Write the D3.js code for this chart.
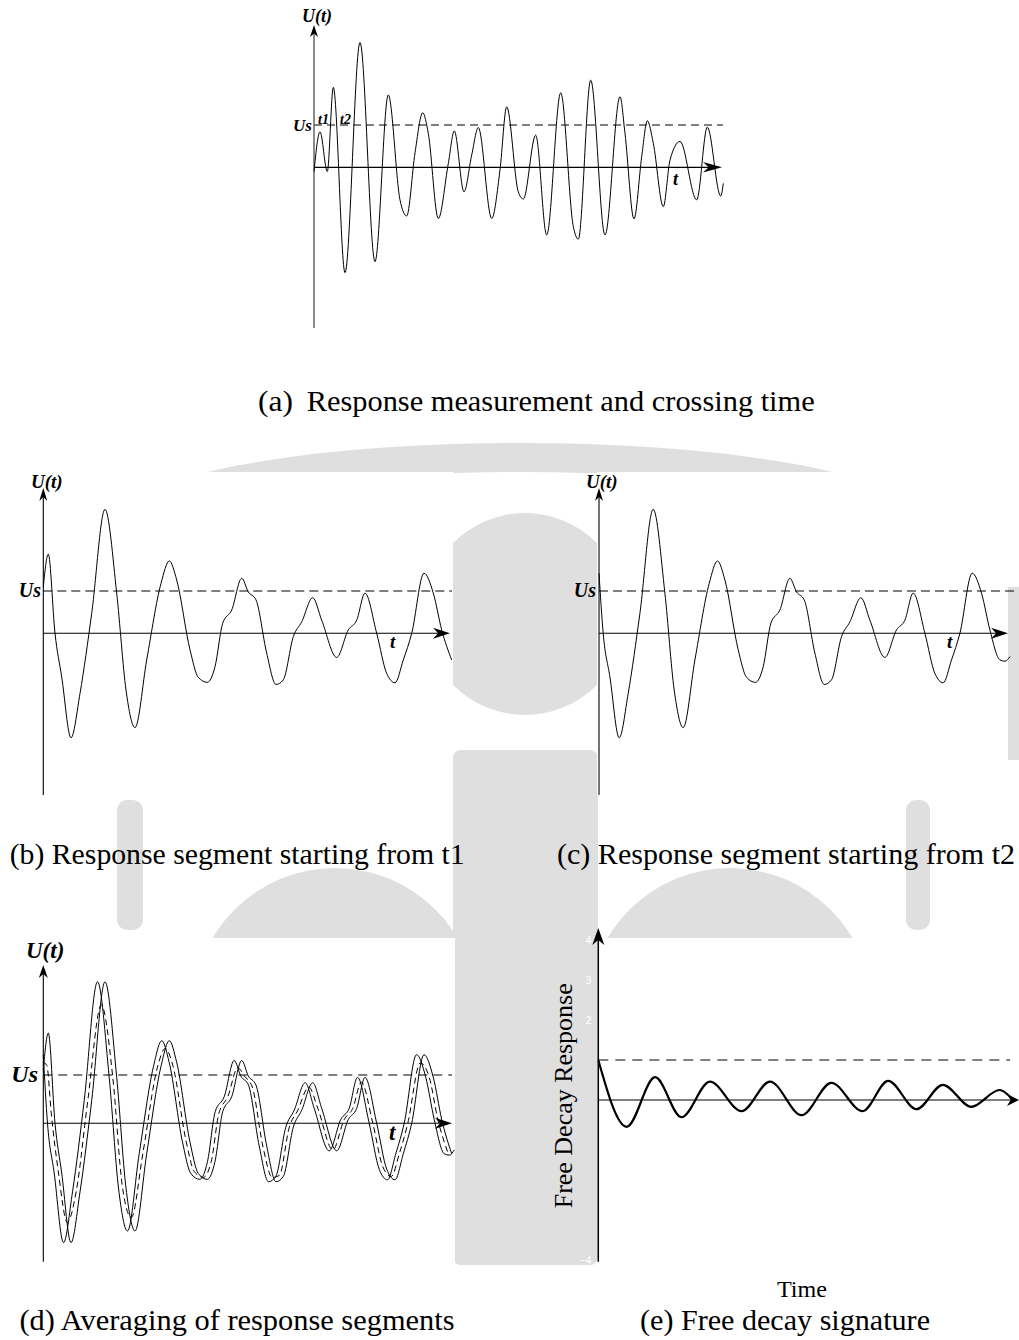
<!DOCTYPE html>
<html><head><meta charset="utf-8">
<script src="https://cdn.jsdelivr.net/npm/d3@7"></script>
<style>
html,body{margin:0;padding:0;background:#fff;}
svg{display:block;}
</style></head><body>
<svg id="fig" width="1019" height="1340"></svg>
<script>
// ---------- DATA ----------
// (a) full measured response: time (arbitrary units) and U(t) (in units of Us)
const fullT = [0,0.6,1.33,1.93,3.1,4.6,6.1,7.43,8.6,9.27,10.1,10.87,11.43,12.43,13.43,14.03,15.0,15.77,16.43,17.77,18.6,19.27,20.43,20.93,22.17,23.27,24.67,25.93,26.43,27.67,29.1,30.6,31.1,32.0,32.77,33.33,33.93,34.93,35.6,36.6,38.27,39.33,40.67,40.93];
const fullU = [-0.1,0.84,-0.10,1.89,-2.49,2.95,-2.23,1.71,-0.77,-1.15,0.34,1.29,0.80,-1.21,0.09,0.86,-0.58,0.29,0.94,-1.21,-0.06,1.43,-0.58,-0.75,0.76,-1.60,1.76,-1.40,-1.70,2.06,-1.60,1.67,0.80,-1.22,0.25,1.10,0.57,-0.93,0.17,0.61,-0.77,0.95,-0.68,-0.38];
// (b) segment starting from t1
const segT1t = [0,0.5,1.17,1.84,2.77,3.67,4.84,6.17,7.34,8.27,9.17,10.34,11.77,12.6,13.34,14.67,15.5,16.4,17.17,17.94,18.84,19.84,20.5,21.27,22.34,23.27,24.0,25.0,25.84,26.94,27.84,29.34,30.5,31.34,32.17,33.34,34.34,35.17,36.0,36.84,38.07,39.0,39.84,40.84];
const segT1u = [1.10,1.87,0.00,-1.03,-2.47,-1.42,0.47,2.93,0.95,-1.34,-2.23,-0.63,1.18,1.71,1.26,-0.39,-1.04,-1.16,-0.79,0.24,0.55,1.30,0.98,0.79,-0.47,-1.21,-1.10,-0.08,0.27,0.84,0.31,-0.57,0.08,0.31,0.95,0.00,-0.95,-1.17,-0.63,0.00,1.42,0.95,0.08,-0.63];
// (c) segment starting from t2
const segT2t = [0,0.42,1.09,2.02,2.92,4.09,5.42,6.59,7.52,8.42,9.59,11.02,11.85,12.59,13.92,14.75,15.65,16.42,17.19,18.09,19.09,19.75,20.52,21.59,22.52,23.25,24.25,25.09,26.19,27.09,28.59,29.75,30.59,31.42,32.59,33.59,34.42,35.25,36.09,37.32,38.25,39.09,40.09,40.6,41.1];
const segT2u = [1.42,0.00,-1.03,-2.47,-1.42,0.47,2.93,0.95,-1.34,-2.23,-0.63,1.18,1.71,1.26,-0.39,-1.04,-1.16,-0.79,0.24,0.55,1.30,0.98,0.79,-0.47,-1.21,-1.10,-0.08,0.27,0.84,0.31,-0.57,0.08,0.31,0.95,0.00,-0.95,-1.17,-0.63,0.00,1.42,0.95,0.08,-0.63,-0.66,-0.55];
// (d) averaged segment (dashed)
const avgT = [0,0.35,0.8,1.5,2.4,3.3,4.45,5.8,6.95,7.9,8.8,9.95,11.4,12.2,12.95,14.3,15.1,16.0,16.8,17.55,18.45,19.45,20.1,20.9,21.95,22.9,23.6,24.6,25.45,26.55,27.45,28.95,30.1,30.95,31.8,32.95,33.95,34.8,35.6,36.45,37.7,38.6,39.45,40.45];
const avgU = [1.26,1.2,0.2,-1.0,-2.05,-1.4,0.47,2.45,0.95,-1.3,-1.95,-0.63,1.15,1.55,1.2,-0.39,-1.0,-1.12,-0.79,0.2,0.55,1.15,0.98,0.75,-0.47,-1.12,-1.08,-0.08,0.27,0.75,0.31,-0.55,0.08,0.31,0.85,0.0,-0.9,-1.1,-0.63,0.0,1.25,0.95,0.08,-0.6];
// (e) free decay signature
const decayTime = [0,0.69,1.38,2.02,2.71,3.48,4.17,4.94,5.66,6.42,7.04,7.73,8.37,9.06,9.75,10.0];
const decayResp = [1.0,-0.67,0.57,-0.43,0.46,-0.28,0.46,-0.38,0.43,-0.28,0.48,-0.23,0.38,-0.17,0.25,0.08];
const decayTicks = [4,3,2,-4];
const thresholdUs = 1.0;

const captions = ["(a)", "Response measurement and crossing time",
  "(b) Response segment starting from t1", "(c) Response segment starting from t2",
  "(d) Averaging of response segments", "(e) Free decay signature"];

// ---------- DRAWING ----------
const svg = d3.select('#fig');
const serif = '"Liberation Serif","Times New Roman",Times,serif';
const zip = (a,b) => a.map((v,i)=>[v,b[i]]);

svg.append('rect').attr('width',1019).attr('height',1340).attr('fill','#fff');

// faint watermark shapes
const wm = svg.append('g').attr('fill','#dfdfdf');
function ell(cx,cy,rx,ry){return `M${cx-rx},${cy}a${rx},${ry} 0 1,0 ${2*rx},0a${rx},${ry} 0 1,0 ${-2*rx},0Z`;}
wm.append('path').attr('fill-rule','evenodd').attr('d', ell(520,520,400,77)+ell(520,540,370,68));
wm.append('circle').attr('cx',525).attr('cy',614).attr('r',101);
wm.append('rect').attr('x',453).attr('y',750).attr('width',145).attr('height',515).attr('rx',8);
wm.append('circle').attr('cx',335).attr('cy',1010).attr('r',142);
wm.append('circle').attr('cx',730).attr('cy',1010).attr('r',142);
wm.append('rect').attr('x',117).attr('y',800).attr('width',26).attr('height',130).attr('rx',10);
wm.append('rect').attr('x',906).attr('y',800).attr('width',24).attr('height',130).attr('rx',10);
wm.append('rect').attr('x',1008).attr('y',587).attr('width',11).attr('height',173);

// white panel backgrounds
[[0,472,453,323],[597,472,411,323],[0,938,455,324],[598,938,412,320]].forEach(r=>{
  svg.append('rect').attr('x',r[0]).attr('y',r[1]).attr('width',r[2]).attr('height',r[3]).attr('fill','#fff');
});

function arrowRight(g,x,y,L,W,col){
  g.append('path').attr('d',`M${x},${y}L${x-L},${y-W}L${x-L*0.7},${y}L${x-L},${y+W}Z`).attr('fill',col||'#000');
}
function arrowUp(g,x,y,L,W,col){
  g.append('path').attr('d',`M${x},${y}L${x-W},${y+L}L${x},${y+L*0.7}L${x+W},${y+L}Z`).attr('fill',col||'#000');
}
function lbl(g,x,y,t,size,anchor){
  return g.append('text').attr('x',x).attr('y',y).text(t)
    .attr('font-family',serif).attr('font-weight','bold').attr('font-style','italic')
    .attr('font-size',size).attr('text-anchor',anchor||'start').attr('fill','#000');
}
function curve(g,x,y,data,opts){
  const line = d3.line().x(d=>x(d[0])).y(d=>y(d[1])).curve(d3.curveMonotoneX);
  const p = g.append('path').attr('d',line(data)).attr('fill','none')
    .attr('stroke','#000').attr('stroke-width',opts&&opts.w||1).attr('stroke-linejoin','round');
  if(opts&&opts.dash) p.attr('stroke-dasharray',opts.dash);
  return p;
}

// ----- panel (a) -----
{
  const g = svg.append('g');
  const x = d3.scaleLinear().domain([0,1]).range([314,324]);
  const y = d3.scaleLinear().domain([0,1]).range([167.3,125]);
  g.append('line').attr('x1',x(0)).attr('x2',723).attr('y1',y(thresholdUs)).attr('y2',y(thresholdUs))
    .attr('stroke','#000').attr('stroke-width',1).attr('stroke-dasharray','8,5');
  g.append('line').attr('x1',x(0)).attr('x2',x(0)).attr('y1',328).attr('y2',30).attr('stroke','#666').attr('stroke-width',1.5);
  arrowUp(g,x(0),25,12,4);
  g.append('line').attr('x1',x(0)).attr('x2',715).attr('y1',y(0)).attr('y2',y(0)).attr('stroke','#000').attr('stroke-width',1.2);
  arrowRight(g,722,y(0),19,5.3);
  curve(g,x,y,zip(fullT,fullU),{w:1});
  lbl(g,302,21.5,'U(t)',18);
  lbl(g,312,131,'Us',17,'end');
  lbl(g,318,124,'t1',14);
  lbl(g,340,124,'t2',14);
  lbl(g,673,185,'t',18);
}

// ----- panels (b) and (c) -----
function segPanel(x0, arrowX, dashEnd, data, labs){
  const g = svg.append('g');
  const x = d3.scaleLinear().domain([0,1]).range([x0,x0+10]);
  const y = d3.scaleLinear().domain([0,1]).range([633.3,591]);
  g.append('line').attr('x1',x0).attr('x2',dashEnd).attr('y1',y(thresholdUs)).attr('y2',y(thresholdUs))
    .attr('stroke','#000').attr('stroke-width',1).attr('stroke-dasharray','9,5');
  g.append('line').attr('x1',x0).attr('x2',x0).attr('y1',795).attr('y2',492).attr('stroke','#000').attr('stroke-width',1.1);
  arrowUp(g,x0,488,13,4);
  g.append('line').attr('x1',x0).attr('x2',arrowX-5).attr('y1',y(0)).attr('y2',y(0)).attr('stroke','#000').attr('stroke-width',1.1);
  arrowRight(g,arrowX,y(0),17,5.5);
  curve(g,x,y,data,{w:1});
  lbl(g,labs.ux,488,'U(t)',19);
  lbl(g,labs.sx,597,'Us',20,'end');
  lbl(g,labs.tx,648,'t',19);
}
segPanel(43.3, 450, 452, zip(segT1t,segT1u), {ux:31, sx:41, tx:390});
segPanel(599, 1008, 1017, zip(segT2t,segT2u), {ux:586, sx:596, tx:947});

// ----- panel (d) -----
{
  const g = svg.append('g');
  const x = d3.scaleLinear().domain([0,1]).range([43.3,53.3]);
  const y = d3.scaleLinear().domain([0,1]).range([1123.3,1075]);
  g.append('line').attr('x1',x(0)).attr('x2',452).attr('y1',y(thresholdUs)).attr('y2',y(thresholdUs))
    .attr('stroke','#000').attr('stroke-width',1).attr('stroke-dasharray','9,6');
  g.append('line').attr('x1',x(0)).attr('x2',x(0)).attr('y1',1261.7).attr('y2',969).attr('stroke','#000').attr('stroke-width',1.1);
  arrowUp(g,x(0),965,13,4.5);
  g.append('line').attr('x1',x(0)).attr('x2',447).attr('y1',y(0)).attr('y2',y(0)).attr('stroke','#000').attr('stroke-width',1.1);
  arrowRight(g,452,y(0),17,5.5);
  curve(g,x,y,zip(segT1t,segT1u),{w:1});
  curve(g,x,y,zip(segT2t,segT2u),{w:1});
  curve(g,x,y,zip(avgT,avgU),{w:1,dash:'6,4'});
  lbl(g,26,958,'U(t)',23);
  lbl(g,38,1082,'Us',24,'end');
  lbl(g,389,1140,'t',23);
}

// ----- panel (e) -----
{
  const g = svg.append('g');
  const x = d3.scaleLinear().domain([0,10]).range([598.3,1010]);
  const y = d3.scaleLinear().domain([-4,4]).range([1260,940]);
  const ax = g.append('g').attr('transform',`translate(${x(0)-4},0)`)
    .call(d3.axisLeft(y).tickValues(decayTicks).tickSize(0).tickFormat(d3.format('d')));
  ax.select('.domain').remove();
  ax.selectAll('text').attr('fill','#fff').attr('font-size',10).attr('font-family','"Liberation Sans",Arial,sans-serif');
  g.append('line').attr('x1',x(0)).attr('x2',1010).attr('y1',y(thresholdUs)).attr('y2',y(thresholdUs))
    .attr('stroke','#000').attr('stroke-width',1).attr('stroke-dasharray','10,7');
  g.append('line').attr('x1',x(0)).attr('x2',1012).attr('y1',y(0)).attr('y2',y(0)).attr('stroke','#808080').attr('stroke-width',2);
  arrowRight(g,1019,y(0),12,6);
  g.append('line').attr('x1',x(0)).attr('x2',x(0)).attr('y1',1261.7).attr('y2',934).attr('stroke','#000').attr('stroke-width',1.5);
  arrowUp(g,x(0),928,17,6);
  curve(g,x,y,zip(decayTime,decayResp),{w:2.2});
  g.append('text').attr('transform','translate(571.7,1095.8) rotate(-90)').attr('text-anchor','middle')
    .attr('font-family',serif).attr('font-size',25).attr('textLength',225).attr('lengthAdjust','spacingAndGlyphs')
    .text('Free Decay Response');
  g.append('text').attr('x',777).attr('y',1296.7).attr('font-family',serif).attr('font-size',24)
    .attr('textLength',50).attr('lengthAdjust','spacingAndGlyphs').text('Time');
}

// ----- captions -----
function cap(x,y,t,len){
  svg.append('text').attr('x',x).attr('y',y).attr('font-family',serif).attr('font-size',30)
    .attr('textLength',len).attr('lengthAdjust','spacingAndGlyphs').attr('fill','#000').text(t);
}
cap(258,411,captions[0],35);
cap(306.7,411,captions[1],508);
cap(9.7,864,captions[2],455);
cap(557,864,captions[3],458);
cap(19.5,1330,captions[4],435);
cap(640,1330,captions[5],290);
</script>
</body></html>
